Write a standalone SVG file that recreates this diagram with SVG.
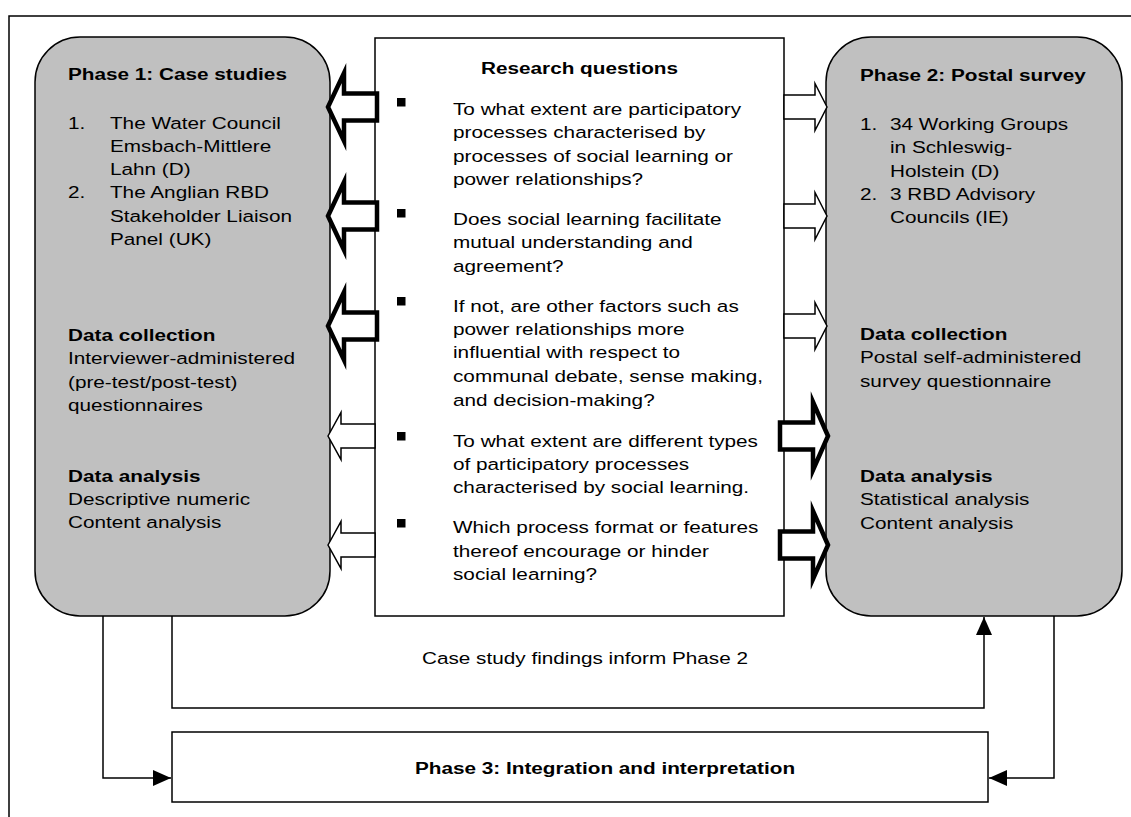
<svg xmlns="http://www.w3.org/2000/svg" width="1131" height="817" viewBox="0 0 1131 817">
<style>
text{font-family:"Liberation Sans",Arial,sans-serif;font-size:17px;fill:#000}
.b{font-weight:bold}
.phase{fill:#c0c0c0;stroke:#000;stroke-width:1.5}
.box{fill:#fff;stroke:#000;stroke-width:1.5}
.thick{fill:#fff;stroke:#000;stroke-width:4.5;stroke-linejoin:miter;stroke-miterlimit:10}
.thin{fill:#fff;stroke:#000;stroke-width:1.5;stroke-linejoin:miter;stroke-miterlimit:10}
.conn{fill:none;stroke:#000;stroke-width:1.5}
</style>
<defs>
<marker id="ah" markerUnits="userSpaceOnUse" markerWidth="20" markerHeight="16" refX="18" refY="8" orient="auto">
<path d="M0,0 L18,8 L0,16 Z" fill="#000"/>
</marker>
</defs>
<rect x="9" y="16" width="1130" height="820" fill="#fff" stroke="#000" stroke-width="1.5"/>

<g id="phase1">
<rect class="phase" x="35" y="37" width="295" height="579" rx="45" ry="45"/>
<text transform="translate(68 0) scale(1.22 1)">
<tspan class="b" x="0" y="80">Phase 1: Case studies</tspan>
<tspan x="0" y="129">1.</tspan><tspan x="34.4" y="129">The Water Council</tspan>
<tspan x="34.4" y="152">Emsbach-Mittlere</tspan>
<tspan x="34.4" y="175">Lahn (D)</tspan>
<tspan x="0" y="198">2.</tspan><tspan x="34.4" y="198">The Anglian RBD</tspan>
<tspan x="34.4" y="222">Stakeholder Liaison</tspan>
<tspan x="34.4" y="245">Panel (UK)</tspan>
<tspan class="b" x="0" y="341">Data collection</tspan>
<tspan x="0" y="364">Interviewer-administered</tspan>
<tspan x="0" y="388">(pre-test/post-test)</tspan>
<tspan x="0" y="411">questionnaires</tspan>
<tspan class="b" x="0" y="482">Data analysis</tspan>
<tspan x="0" y="505">Descriptive numeric</tspan>
<tspan x="0" y="528">Content analysis</tspan>
</text>
</g>

<g id="research">
<rect class="box" x="375" y="38" width="409" height="578"/>
<text class="b" transform="translate(579.5 0) scale(1.22 1)" text-anchor="middle"><tspan x="0" y="74">Research questions</tspan></text>
<g fill="#000">
<rect x="397" y="98" width="8.5" height="8.5"/>
<rect x="397" y="209" width="8.5" height="8.5"/>
<rect x="397" y="297" width="8.5" height="8.5"/>
<rect x="397" y="432" width="8.5" height="8.5"/>
<rect x="397" y="519" width="8.5" height="8.5"/>
</g>
<text transform="translate(453 0) scale(1.22 1)">
<tspan x="0" y="115">To what extent are participatory</tspan>
<tspan x="0" y="138">processes characterised by</tspan>
<tspan x="0" y="162">processes of social learning or</tspan>
<tspan x="0" y="185">power relationships?</tspan>
<tspan x="0" y="225">Does social learning facilitate</tspan>
<tspan x="0" y="248">mutual understanding and</tspan>
<tspan x="0" y="272">agreement?</tspan>
<tspan x="0" y="312">If not, are other factors such as</tspan>
<tspan x="0" y="335">power relationships more</tspan>
<tspan x="0" y="358">influential with respect to</tspan>
<tspan x="0" y="382">communal debate, sense making,</tspan>
<tspan x="0" y="406">and decision-making?</tspan>
<tspan x="0" y="447">To what extent are different types</tspan>
<tspan x="0" y="470">of participatory processes</tspan>
<tspan x="0" y="493">characterised by social learning.</tspan>
<tspan x="0" y="533">Which process format or features</tspan>
<tspan x="0" y="557">thereof encourage or hinder</tspan>
<tspan x="0" y="580">social learning?</tspan>
</text>
</g>

<g id="phase2">
<rect class="phase" x="826" y="37" width="296" height="579" rx="45" ry="45"/>
<text transform="translate(860 0) scale(1.22 1)">
<tspan class="b" x="0" y="81">Phase 2: Postal survey</tspan>
<tspan x="0" y="130">1.</tspan><tspan x="24.6" y="130">34 Working Groups</tspan>
<tspan x="24.6" y="153">in Schleswig-</tspan>
<tspan x="24.6" y="177">Holstein (D)</tspan>
<tspan x="0" y="200">2.</tspan><tspan x="24.6" y="200">3 RBD Advisory</tspan>
<tspan x="24.6" y="223">Councils (IE)</tspan>
<tspan class="b" x="0" y="340">Data collection</tspan>
<tspan x="0" y="363">Postal self-administered</tspan>
<tspan x="0" y="387">survey questionnaire</tspan>
<tspan class="b" x="0" y="482">Data analysis</tspan>
<tspan x="0" y="505">Statistical analysis</tspan>
<tspan x="0" y="529">Content analysis</tspan>
</text>
</g>

<g id="phase3">
<rect class="box" x="172" y="732" width="816" height="70"/>
<text class="b" transform="translate(605 0) scale(1.22 1)" text-anchor="middle"><tspan x="0" y="774">Phase 3: Integration and interpretation</tspan></text>
</g>

<g id="connectors">
<polygon class="thick" points="328,107 344,73 344,93.5 377,93.5 377,120.5 344,120.5 344,141"/>
<polygon class="thick" points="328,216 344,182 344,202.5 377,202.5 377,229.5 344,229.5 344,250"/>
<polygon class="thick" points="328,326 344,292 344,312.5 377,312.5 377,339.5 344,339.5 344,360"/>
<polygon class="thin" points="328,436 341,412.5 341,424 375,424 375,448 341,448 341,459.5"/>
<polygon class="thin" points="328,545 341,521.5 341,533 375,533 375,557 341,557 341,568.5"/>
<polygon class="thin" points="827,107 815,83.5 815,95 784,95 784,119 815,119 815,130.5"/>
<polygon class="thin" points="827,216 815,192.5 815,204 784,204 784,228 815,228 815,239.5"/>
<polygon class="thin" points="827,326 815,302.5 815,314 784,314 784,338 815,338 815,349.5"/>
<polygon class="thick" points="828,436 813,402 813,422.5 780,422.5 780,449.5 813,449.5 813,470"/>
<polygon class="thick" points="828,545 813,511 813,531.5 780,531.5 780,558.5 813,558.5 813,579"/>
<path class="conn" d="M103,616 V778 H171" marker-end="url(#ah)"/>
<path class="conn" d="M172,616 V708 H984 V617" marker-end="url(#ah)"/>
<path class="conn" d="M1054,616 V778 H989" marker-end="url(#ah)"/>
<text transform="translate(585 0) scale(1.22 1)" text-anchor="middle"><tspan x="0" y="664">Case study findings inform Phase 2</tspan></text>
</g>
</svg>
